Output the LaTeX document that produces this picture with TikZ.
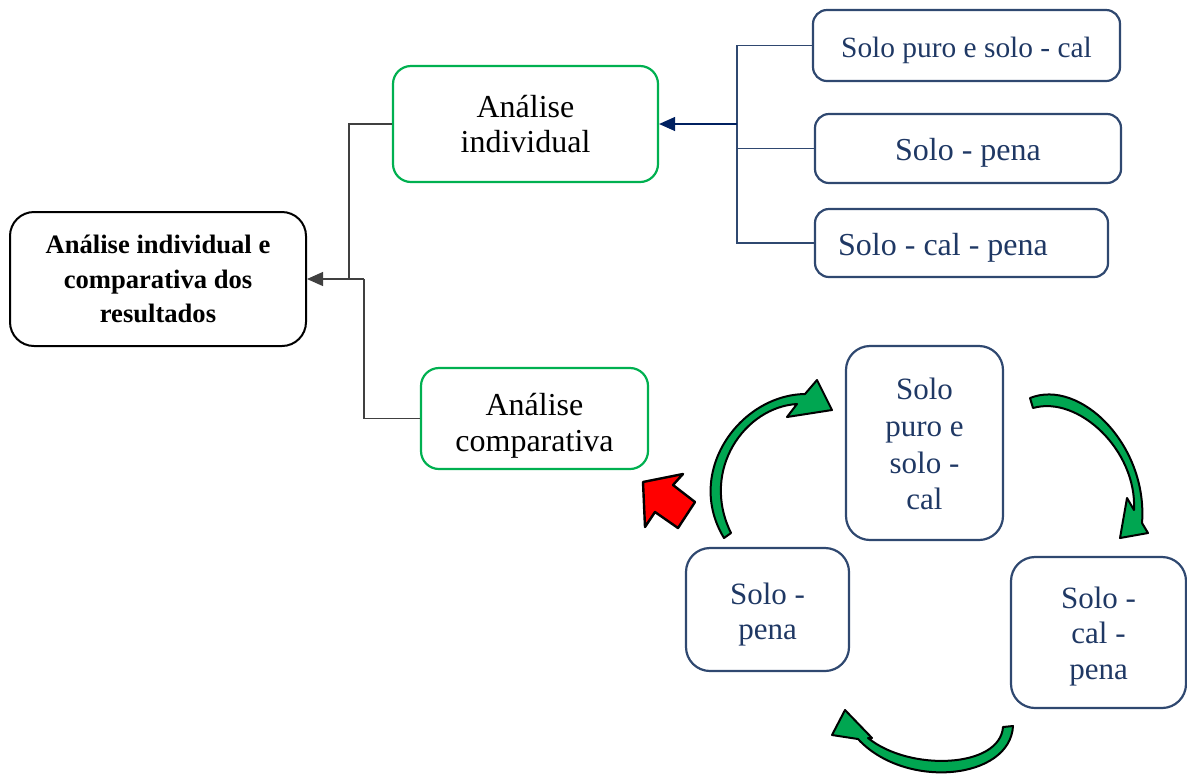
\documentclass[tikz,border=0pt]{standalone}
\usepackage{fontspec}
\setmainfont{Liberation Serif}
\usetikzlibrary{arrows.meta}

\definecolor{boxgreen}{RGB}{0,176,80}
\definecolor{boxblue}{RGB}{47,72,112}
\definecolor{txtblue}{RGB}{31,56,100}
\definecolor{navy}{RGB}{0,32,96}
\definecolor{arrgreen}{RGB}{0,166,81}

% pushes a node's text down a little
\newcommand{\topstrut}[1]{\rule{0pt}{#1}}

\tikzset{
	mainbox/.style={draw=black, line width=1pt, rounded corners=12pt, align=center,
		font=\fontsize{13.3}{17.3}\selectfont\bfseries},
	greenbox/.style={draw=boxgreen, line width=1.1pt, rounded corners=9pt, align=center,
		font=\fontsize{16}{17.8}\selectfont},
	bluebox/.style={draw=boxblue, line width=1.1pt, rounded corners=7pt, align=center,
		text=txtblue, font=\fontsize{16}{17.8}\selectfont},
	cyclebox/.style={bluebox, rounded corners=12pt, font=\fontsize{15.5}{17.8}\selectfont},
	conn/.style={draw=black!75, line width=0.6pt},
	bluelink/.style={draw=boxblue, line width=0.6pt},
	turn/.style={fill=arrgreen, draw=black, line width=1pt, line join=round},
}

\begin{document}
\begin{tikzpicture}[x=0.5pt, y=-0.5pt]
	\useasboundingbox (0,0) rectangle (1187,773);

	% boxes
	\node[mainbox, minimum width=148pt, minimum height=67pt] (res) at (158,279)
		{Análise individual e\\comparativa dos\\resultados};
	\node[greenbox, minimum width=132.5pt, minimum height=58pt] (indiv) at (525.5,124)
		{Análise\\individual};
	\node[greenbox, minimum width=113.5pt, minimum height=50.5pt,
		font=\fontsize{16}{18.3}\selectfont] (comp) at (534.5,418.5)
		{\topstrut{18.3pt}Análise\\comparativa};
	\node[bluebox, minimum width=153.5pt, minimum height=35.5pt,
		font=\fontsize{14.7}{17.8}\selectfont] (spc) at (966.5,45.5)
		{\topstrut{14.7pt}Solo puro e solo - cal};
	\node[bluebox, minimum width=153pt, minimum height=34.5pt] (sp) at (968,148.5)
		{\topstrut{15.5pt}Solo - pena};
	\node[bluebox, minimum width=146.5pt, minimum height=34pt] (scp) at (961.5,243)
		{\topstrut{15.5pt}Solo - cal - pena\hspace*{18.5pt}};

	% cycle
	\node[cyclebox, minimum width=78.5pt, minimum height=97pt,
		font=\fontsize{15.5}{18.3}\selectfont] (cpc) at (924.5,443)
		{\topstrut{12pt}Solo\\puro e\\solo -\\cal};
	\node[cyclebox, minimum width=81.5pt, minimum height=61.5pt] (cp) at (767.5,609.5)
		{\topstrut{15.6pt}Solo -\\pena};
	\node[cyclebox, minimum width=87.5pt, minimum height=75.5pt] (ccp) at (1098.5,632.5)
		{\topstrut{14.4pt}Solo -\\cal -\\pena};

	% connectors
	\coordinate (jn) at (737,124);
	\draw[bluelink] (spc.west) -| (jn) |- (scp.west);
	\draw[bluelink] (sp.west) -| (jn);
	\draw[bluelink, draw=navy, -{Triangle[length=8pt, width=7pt]}] (jn) -- (indiv.east);

	\coordinate (ja) at (349,279);
	\coordinate (jb) at (364,279);
	\draw[conn] (indiv.west) -| (ja);
	\draw[conn] (comp.west) -| (jb);
	\draw[conn, -{Triangle[length=8pt, width=7pt]}] (jb) -- (res.east);

	% curved arrows
	\filldraw[turn] (724,538) .. controls (684,472) and (740,395) .. (805,394)
		-- (817,380) -- (832,410) -- (787,417) -- (797,404)
		.. controls (745,407) and (700,470) .. (731,533) -- cycle;
	\filldraw[turn] (1030,398) .. controls (1080,378) and (1148,445) .. (1142,523)
		-- (1148,533) -- (1120,538) -- (1127,498) -- (1134,510)
		.. controls (1137,450) and (1078,395) .. (1033,408) -- cycle;
	\filldraw[turn] (1013,726) .. controls (1010,780) and (905,790) .. (858,739)
		-- (832,735) -- (845,710) -- (872,738) -- (868,738)
		.. controls (910,772) and (1000,768) .. (1003,727) -- cycle;

	% red arrow
	\filldraw[fill=red, draw=black, line width=1.2pt, line join=round]
		(643,482) -- (683,474) -- (673,485) -- (695,502) -- (678,528)
		-- (655,512) -- (645,527) -- cycle;
\end{tikzpicture}
\end{document}
